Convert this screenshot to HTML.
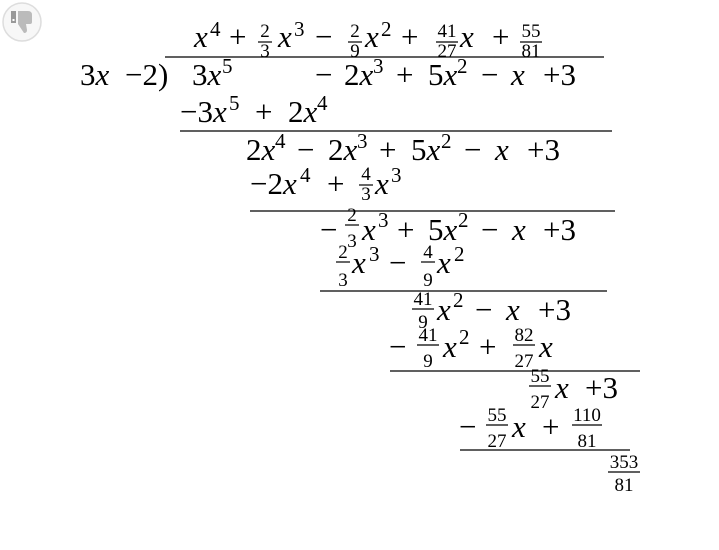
<!DOCTYPE html>
<html><head><meta charset="utf-8"><style>
html,body{margin:0;padding:0;background:#fff;width:719px;height:550px;overflow:hidden}
svg text{font-family:"Liberation Serif",serif;fill:#000}
.m{font-size:31px}
.i{font-style:italic}
.s{font-size:21px}
.f{font-size:19px;text-anchor:middle}
</style></head><body>
<svg width="719" height="550" viewBox="0 0 719 550" xmlns="http://www.w3.org/2000/svg">
<circle cx="22" cy="22" r="19" fill="#f7f7f7" stroke="#ddd" stroke-width="1.5"/>
<rect x="11" y="11" width="5" height="12" fill="#999"/>
<rect x="12.5" y="19" width="2" height="2" fill="#fff"/>
<path d="M18 11 h10 q4 0 4 4 v7 q0 2 -2 2 h-4 l1 6 q0 3 -3 3 l-6 -9 z" fill="#bbb"/>
<g stroke="#000" stroke-width="1.2">
<line x1="165" y1="57" x2="604" y2="57"/>
<line x1="180" y1="131" x2="612" y2="131"/>
<line x1="250" y1="211" x2="615" y2="211"/>
<line x1="320" y1="291" x2="607" y2="291"/>
<line x1="390" y1="371" x2="640" y2="371"/>
<line x1="460" y1="450" x2="630" y2="450"/>
<line x1="258" y1="42" x2="272" y2="42"/>
<line x1="348" y1="42" x2="362" y2="42"/>
<line x1="436" y1="42" x2="458" y2="42"/>
<line x1="520" y1="42" x2="542" y2="42"/>
<line x1="359" y1="185" x2="373" y2="185"/>
<line x1="345" y1="225" x2="359" y2="225"/>
<line x1="336" y1="262" x2="350" y2="262"/>
<line x1="421" y1="262" x2="435" y2="262"/>
<line x1="412" y1="309" x2="434" y2="309"/>
<line x1="417" y1="345" x2="439" y2="345"/>
<line x1="513" y1="345" x2="535" y2="345"/>
<line x1="529" y1="386" x2="551" y2="386"/>
<line x1="486" y1="425" x2="508" y2="425"/>
<line x1="572" y1="425" x2="602" y2="425"/>
<line x1="608" y1="472" x2="640" y2="472"/>
</g>
<!-- row1 -->
<text class="m i" x="194" y="47">x</text><text class="s" x="210" y="36">4</text>
<text class="m" x="229" y="47">+</text>
<text class="f" x="265" y="37">2</text><text class="f" x="265" y="57">3</text>
<text class="m i" x="278" y="47">x</text><text class="s" x="294" y="36">3</text>
<text class="m" x="315" y="47">−</text>
<text class="f" x="355" y="37">2</text><text class="f" x="355" y="57">9</text>
<text class="m i" x="365" y="47">x</text><text class="s" x="381" y="36">2</text>
<text class="m" x="401" y="47">+</text>
<text class="f" x="447" y="37">41</text><text class="f" x="447" y="57">27</text>
<text class="m i" x="460" y="47">x</text>
<text class="m" x="492" y="47">+</text>
<text class="f" x="531" y="37">55</text><text class="f" x="531" y="57">81</text>
<!-- row2 -->
<text class="m" x="80" y="85">3<tspan class="i">x</tspan></text>
<text class="m" x="125" y="85">−2)</text>
<text class="m" x="192" y="85">3<tspan class="i">x</tspan></text><text class="s" x="222" y="73">5</text>
<text class="m" x="315" y="85">−</text>
<text class="m" x="344" y="85">2<tspan class="i">x</tspan></text><text class="s" x="373" y="73">3</text>
<text class="m" x="396" y="85">+</text>
<text class="m" x="428" y="85">5<tspan class="i">x</tspan></text><text class="s" x="457" y="73">2</text>
<text class="m" x="481" y="85">−</text>
<text class="m i" x="511" y="85">x</text>
<text class="m" x="543" y="85">+3</text>
<!-- row3 -->
<text class="m" x="180" y="122">−3<tspan class="i">x</tspan></text><text class="s" x="229" y="110">5</text>
<text class="m" x="255" y="122">+</text>
<text class="m" x="288" y="122">2<tspan class="i">x</tspan></text><text class="s" x="317" y="110">4</text>
<!-- row4 -->
<text class="m" x="246" y="160">2<tspan class="i">x</tspan></text><text class="s" x="275" y="148">4</text>
<text class="m" x="297" y="160">−</text>
<text class="m" x="328" y="160">2<tspan class="i">x</tspan></text><text class="s" x="357" y="148">3</text>
<text class="m" x="379" y="160">+</text>
<text class="m" x="411" y="160">5<tspan class="i">x</tspan></text><text class="s" x="441" y="148">2</text>
<text class="m" x="464" y="160">−</text>
<text class="m i" x="495" y="160">x</text>
<text class="m" x="527" y="160">+3</text>
<!-- row5 -->
<text class="m" x="250" y="194">−2<tspan class="i">x</tspan></text><text class="s" x="300" y="182">4</text>
<text class="m" x="327" y="194">+</text>
<text class="f" x="366" y="180">4</text><text class="f" x="366" y="200">3</text>
<text class="m i" x="375" y="194">x</text><text class="s" x="391" y="182">3</text>
<!-- row6 -->
<text class="m" x="320" y="240">−</text>
<text class="f" x="352" y="221">2</text><text class="f" x="352" y="247">3</text>
<text class="m i" x="362" y="240">x</text><text class="s" x="378" y="227">3</text>
<text class="m" x="397" y="240">+</text>
<text class="m" x="428" y="240">5<tspan class="i">x</tspan></text><text class="s" x="458" y="227">2</text>
<text class="m" x="481" y="240">−</text>
<text class="m i" x="512" y="240">x</text>
<text class="m" x="543" y="240">+3</text>
<!-- row7 -->
<text class="f" x="343" y="258">2</text><text class="f" x="343" y="286">3</text>
<text class="m i" x="352" y="273">x</text><text class="s" x="369" y="261">3</text>
<text class="m" x="389" y="273">−</text>
<text class="f" x="428" y="258">4</text><text class="f" x="428" y="286">9</text>
<text class="m i" x="437" y="273">x</text><text class="s" x="454" y="261">2</text>
<!-- row8 -->
<text class="f" x="423" y="305">41</text><text class="f" x="423" y="328">9</text>
<text class="m i" x="437" y="320">x</text><text class="s" x="453" y="307">2</text>
<text class="m" x="475" y="320">−</text>
<text class="m i" x="506" y="320">x</text>
<text class="m" x="538" y="320">+3</text>
<!-- row9 -->
<text class="m" x="389" y="357">−</text>
<text class="f" x="428" y="341">41</text><text class="f" x="428" y="367">9</text>
<text class="m i" x="443" y="357">x</text><text class="s" x="459" y="344">2</text>
<text class="m" x="479" y="357">+</text>
<text class="f" x="524" y="341">82</text><text class="f" x="524" y="367">27</text>
<text class="m i" x="539" y="357">x</text>
<!-- row10 -->
<text class="f" x="540" y="382">55</text><text class="f" x="540" y="408">27</text>
<text class="m i" x="555" y="398">x</text>
<text class="m" x="585" y="398">+3</text>
<!-- row11 -->
<text class="m" x="459" y="437">−</text>
<text class="f" x="497" y="421">55</text><text class="f" x="497" y="447">27</text>
<text class="m i" x="512" y="437">x</text>
<text class="m" x="542" y="437">+</text>
<text class="f" x="587" y="421">110</text><text class="f" x="587" y="447">81</text>
<!-- remainder -->
<text class="f" x="624" y="468">353</text><text class="f" x="624" y="491">81</text>
</svg>
</body></html>
